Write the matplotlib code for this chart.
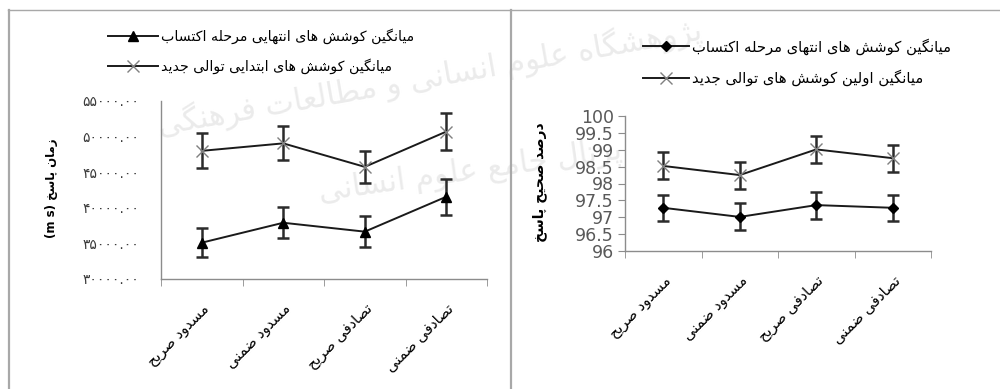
import matplotlib
matplotlib.use("Agg")
import matplotlib.pyplot as plt
from matplotlib.lines import Line2D

# Farsi labels are stored in logical order and shaped below, since
# matplotlib neither joins Arabic letters nor lays text out right-to-left.
categories = ["مسدود صریح", "مسدود ضمنی", "تصادفی صریح", "تصادفی ضمنی"]

rt_last = [35100, 37900, 36650, 41550]
rt_last_err = [2050, 2200, 2150, 2500]
rt_first = [48000, 49050, 45750, 50700]
rt_first_err = [2450, 2400, 2250, 2550]

acc_last = [97.28, 97.01, 97.36, 97.28]
acc_last_err = [0.39, 0.40, 0.40, 0.39]
acc_first = [98.52, 98.25, 99.01, 98.75]
acc_first_err = [0.40, 0.40, 0.41, 0.40]

rt_ticks = [30000, 35000, 40000, 45000, 50000, 55000]
acc_ticks = [96, 96.5, 97, 97.5, 98, 98.5, 99, 99.5, 100]

rt_legend = ["میانگین کوشش های انتهایی مرحله اکتساب",
             "میانگین کوشش های ابتدایی توالی جدید"]
acc_legend = ["میانگین کوشش های انتهای مرحله اکتساب",
              "میانگین اولین کوشش های توالی جدید"]
rt_ylabel = "زمان پاسخ"
acc_ylabel = "درصد صحیح پاسخ"
watermark = ["پژوهشگاه علوم انسانی و مطالعات فرهنگی", "پرتال جامع علوم انسانی"]

# isolated, final, initial, medial (right-joining letters have only two)
FORMS = {
    "ا": ("\uFE8D", "\uFE8E"),
    "ب": ("\uFE8F", "\uFE90", "\uFE91", "\uFE92"),
    "پ": ("\uFB56", "\uFB57", "\uFB58", "\uFB59"),
    "ت": ("\uFE95", "\uFE96", "\uFE97", "\uFE98"),
    "ج": ("\uFE9D", "\uFE9E", "\uFE9F", "\uFEA0"),
    "ح": ("\uFEA1", "\uFEA2", "\uFEA3", "\uFEA4"),
    "خ": ("\uFEA5", "\uFEA6", "\uFEA7", "\uFEA8"),
    "د": ("\uFEA9", "\uFEAA"),
    "ر": ("\uFEAD", "\uFEAE"),
    "ز": ("\uFEAF", "\uFEB0"),
    "ژ": ("\uFB8A", "\uFB8B"),
    "س": ("\uFEB1", "\uFEB2", "\uFEB3", "\uFEB4"),
    "ش": ("\uFEB5", "\uFEB6", "\uFEB7", "\uFEB8"),
    "ص": ("\uFEB9", "\uFEBA", "\uFEBB", "\uFEBC"),
    "ض": ("\uFEBD", "\uFEBE", "\uFEBF", "\uFEC0"),
    "ط": ("\uFEC1", "\uFEC2", "\uFEC3", "\uFEC4"),
    "ع": ("\uFEC9", "\uFECA", "\uFECB", "\uFECC"),
    "ف": ("\uFED1", "\uFED2", "\uFED3", "\uFED4"),
    "ک": ("\uFB8E", "\uFB8F", "\uFB90", "\uFB91"),
    "گ": ("\uFB92", "\uFB93", "\uFB94", "\uFB95"),
    "ل": ("\uFEDD", "\uFEDE", "\uFEDF", "\uFEE0"),
    "م": ("\uFEE1", "\uFEE2", "\uFEE3", "\uFEE4"),
    "ن": ("\uFEE5", "\uFEE6", "\uFEE7", "\uFEE8"),
    "ه": ("\uFEE9", "\uFEEA", "\uFEEB", "\uFEEC"),
    "و": ("\uFEED", "\uFEEE"),
    "ی": ("\uFBFC", "\uFBFD", "\uFBFE", "\uFBFF"),
}


def fa(text):
    out = []
    for i, ch in enumerate(text):
        forms = FORMS.get(ch)
        if forms is None:
            out.append(ch)
            continue
        prev = text[i - 1] if i > 0 else ""
        nxt = text[i + 1] if i + 1 < len(text) else ""
        join_prev = prev in FORMS and len(FORMS[prev]) == 4
        join_next = len(forms) == 4 and nxt in FORMS
        if join_prev and join_next:
            out.append(forms[3])
        elif join_prev:
            out.append(forms[1])
        elif join_next:
            out.append(forms[2])
        else:
            out.append(forms[0])
    return "".join(reversed(out))


def fa_digits(s):
    return s.translate(str.maketrans("0123456789", "۰۱۲۳۴۵۶۷۸۹"))


plt.rcParams["font.family"] = ["DejaVu Sans"]

fig = plt.figure(figsize=(10, 3.89), dpi=100)
W, H = 1000.0, 389.0

# panel frames
frame = dict(transform=fig.transFigure, color="#a8a8a8")
fig.add_artist(Line2D([8 / W, 1], [1 - 10 / H] * 2, lw=1, **frame))
fig.add_artist(Line2D([8.5 / W] * 2, [0, 1 - 10 / H], lw=1.6, **frame))
fig.add_artist(Line2D([511 / W] * 2, [0, 1 - 10 / H], lw=1.6, **frame))

# faint background lettering
fig.text(0.43, 0.80, fa(watermark[0]), fontsize=22, color="#ebebeb",
         rotation=10, ha="center", va="center", zorder=-5)
fig.text(0.47, 0.56, fa(watermark[1]), fontsize=22, color="#ebebeb",
         rotation=8, ha="center", va="center", zorder=-5)

ax1 = fig.add_axes([161 / W, 1 - 279 / H, 326 / W, 178 / H])
ax2 = fig.add_axes([625 / W, 1 - 251 / H, 306 / W, 135 / H])

x = list(range(len(categories)))
labels = [fa(c) for c in categories]


def style_axes(ax):
    ax.patch.set_visible(False)
    for side in ("top", "right"):
        ax.spines[side].set_visible(False)
    for side in ("left", "bottom"):
        ax.spines[side].set_color("#8c8c8c")
        ax.spines[side].set_linewidth(1)
    ax.set_xlim(-0.5, len(categories) - 0.5)
    ax.set_xticks(x)
    ax.set_xticklabels(labels, rotation=45, ha="right",
                       rotation_mode="anchor", fontsize=10.5)
    ax.set_xticks([i - 0.5 for i in range(len(categories) + 1)], minor=True)
    ax.tick_params(axis="x", which="major", length=0, pad=16)
    ax.tick_params(axis="x", which="minor", length=5, color="#8c8c8c")


def draw_series(ax, y, err, marker, mcolor, msize):
    ax.errorbar(x, y, yerr=err, fmt="none", ecolor="#2b2b2b",
                elinewidth=1.8, capsize=4, capthick=1.8, zorder=2)
    line, = ax.plot(x, y, color="#1a1a1a", lw=1.4, marker=marker,
                    markersize=msize, markerfacecolor=mcolor,
                    markeredgecolor=mcolor, markeredgewidth=1, zorder=3)
    return line


# response time panel
style_axes(ax1)
h1 = draw_series(ax1, rt_last, rt_last_err, "^", "black", 7.5)
h2 = draw_series(ax1, rt_first, rt_first_err, "x", "#808080", 8)
ax1.set_ylim(30000, 55000)
ax1.set_yticks(rt_ticks)
ax1.set_yticklabels([fa_digits(f"{v:.2f}") for v in rt_ticks],
                    fontsize=10, color="#3a3a3a")
ax1.tick_params(axis="y", length=0, pad=16)
ax1.set_ylabel("(m s) " + fa(rt_ylabel), fontsize=8.5, fontweight="bold")
ax1.yaxis.set_label_coords(-0.315, 0.51)
fig.legend([h1, h2], [fa(t) for t in rt_legend], loc="upper left",
           bbox_to_anchor=(108 / W, 1 - 28 / H), frameon=False,
           fontsize=10.2, handlelength=3.5, handletextpad=0.25,
           labelspacing=1.05, borderpad=0, borderaxespad=0)

# accuracy panel
style_axes(ax2)
h3 = draw_series(ax2, acc_last, acc_last_err, "D", "black", 5)
h4 = draw_series(ax2, acc_first, acc_first_err, "x", "#808080", 8)
ax2.set_ylim(96, 100)
ax2.set_yticks(acc_ticks)
ax2.set_yticklabels([f"{v:g}" for v in acc_ticks], fontsize=12.5,
                    color="#595959")
ax2.tick_params(axis="y", length=5, color="#8c8c8c", pad=3)
ax2.set_ylabel(fa(acc_ylabel), fontsize=10, fontweight="bold")
ax2.yaxis.set_label_coords(-0.255, 0.51)
fig.legend([h3, h4], [fa(t) for t in acc_legend], loc="upper left",
           bbox_to_anchor=(643 / W, 1 - 38 / H), frameon=False,
           fontsize=10.6, handlelength=3.1, handletextpad=0.25,
           labelspacing=1.0, borderpad=0, borderaxespad=0)

fig.savefig("out.png", dpi=100)
